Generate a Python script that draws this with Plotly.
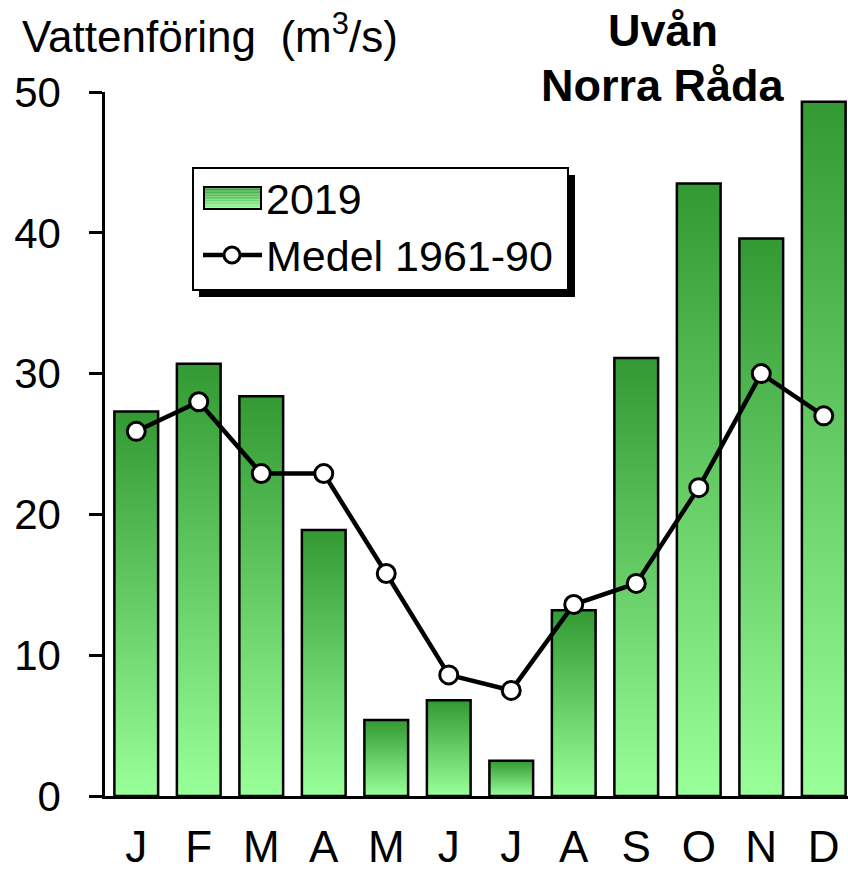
import plotly.graph_objects as go

months = ["J", "F", "M", "A", "M", "J", "J", "A", "S", "O", "N", "D"]
flow_2019 = [27.3, 30.7, 28.4, 18.9, 5.4, 6.8, 2.5, 13.2, 31.1, 43.5, 39.6, 49.3]
medel_1961_90 = [25.9, 28.0, 22.9, 22.9, 15.8, 8.6, 7.5, 13.6, 15.1, 21.9, 30.0, 27.0]

W, H = 848, 872
ML, MR, MT, MB = 105, 0, 92, 76
PW, PH = W - ML - MR, H - MT - MB
FONT = "Liberation Sans, Arial, sans-serif"
DARK, LIGHT = "#339933", "#99FF99"


def px(x, y):
    # pixel position -> paper coordinates
    return (x - ML) / PW, (H - MB - y) / PH


def mix(c1, c2, t):
    a = [int(c1[i:i + 2], 16) for i in (1, 3, 5)]
    b = [int(c2[i:i + 2], 16) for i in (1, 3, 5)]
    return "rgb(%d,%d,%d)" % tuple(round(a[k] + (b[k] - a[k]) * t) for k in range(3))


fig = go.Figure()

# bars with their own vertical gradient
half = 0.35
for i, v in enumerate(flow_2019):
    fig.add_trace(go.Scatter(
        x=[i - half, i - half, i + half, i + half, i - half],
        y=[0, v, v, 0, 0],
        mode="lines", fill="toself",
        fillgradient=dict(type="vertical", colorscale=[[0, LIGHT], [1, DARK]]),
        line=dict(color="black", width=2.5),
        showlegend=False, hoverinfo="skip"))

fig.add_trace(go.Scatter(
    x=list(range(len(months))), y=medel_1961_90, mode="lines+markers",
    line=dict(color="black", width=4.5),
    marker=dict(size=18, color="white", line=dict(color="black", width=3)),
    showlegend=False))

shapes = []
annotations = []

# legend box with drop shadow
x0, y0 = px(199, 175); x1, y1 = px(575, 297)
shapes.append(dict(type="rect", xref="paper", yref="paper", x0=x0, y0=y0, x1=x1, y1=y1,
                   fillcolor="black", line=dict(width=0)))
x0, y0 = px(193, 168); x1, y1 = px(568, 290)
shapes.append(dict(type="rect", xref="paper", yref="paper", x0=x0, y0=y0, x1=x1, y1=y1,
                   fillcolor="white", line=dict(color="black", width=2)))

# gradient swatch
n = 14
top, bot = 187, 209
for k in range(n):
    ya = top + (bot - top) * k / n
    yb = top + (bot - top) * (k + 1) / n
    x0, y0 = px(204, yb); x1, y1 = px(261, ya)
    shapes.append(dict(type="rect", xref="paper", yref="paper", x0=x0, y0=y0, x1=x1, y1=y1,
                       fillcolor=mix(DARK, LIGHT, (k + 0.5) / n), line=dict(width=0)))
x0, y0 = px(204, bot); x1, y1 = px(261, top)
shapes.append(dict(type="rect", xref="paper", yref="paper", x0=x0, y0=y0, x1=x1, y1=y1,
                   line=dict(color="black", width=2)))

# line + marker symbol
x0, y0 = px(203, 255); x1, y1 = px(262, 255)
shapes.append(dict(type="line", xref="paper", yref="paper", x0=x0, y0=y0, x1=x1, y1=y1,
                   line=dict(color="black", width=4.5)))
x0, y0 = px(224, 263); x1, y1 = px(240, 247)
shapes.append(dict(type="circle", xref="paper", yref="paper", x0=x0, y0=y0, x1=x1, y1=y1,
                   fillcolor="white", line=dict(color="black", width=3)))

for label, yy in [("2019", 199), ("Medel 1961-90", 256)]:
    ax, ay = px(264, yy)
    annotations.append(dict(text=label, xref="paper", yref="paper", x=ax, y=ay,
                            xanchor="left", yanchor="middle", showarrow=False,
                            font=dict(size=43, color="black", family=FONT)))

# axis title and station name
ax, ay = px(20, 33)
annotations.append(dict(text="Vattenföring  (m<sup>3</sup>/s)", xref="paper", yref="paper",
                        x=ax, y=ay, xanchor="left", yanchor="middle", showarrow=False,
                        font=dict(size=44, color="black", family=FONT)))
for label, yy in [("<b>Uvån</b>", 31), ("<b>Norra Råda</b>", 86)]:
    ax, ay = px(663, yy)
    annotations.append(dict(text=label, xref="paper", yref="paper", x=ax, y=ay,
                            xanchor="center", yanchor="middle", showarrow=False,
                            font=dict(size=45, color="black", family=FONT)))

fig.update_layout(
    width=W, height=H,
    margin=dict(l=ML, r=MR, t=MT, b=MB),
    paper_bgcolor="white", plot_bgcolor="white",
    font=dict(family=FONT, size=44, color="black"),
    shapes=shapes, annotations=annotations,
    xaxis=dict(range=[-0.5, -0.5 + PW / 62.5], tickvals=list(range(len(months))),
               ticktext=months, showline=True, linecolor="black", linewidth=2.5,
               ticks="", showgrid=False, zeroline=False, ticklabelstandoff=10,
               automargin=False, fixedrange=True),
    yaxis=dict(range=[0, 50], dtick=10, showline=True, linecolor="black", linewidth=2.5,
               ticks="outside", ticklen=13, tickwidth=2.5, tickcolor="black",
               tickfont=dict(size=42), showgrid=False, zeroline=False,
               ticklabelstandoff=20, automargin=False, fixedrange=True),
    showlegend=False,
)

# drop the default page margin so the figure sits at the window's corner
fig.write_html("out.html", config={"displayModeBar": False},
               post_script="document.body.style.margin='0';")
